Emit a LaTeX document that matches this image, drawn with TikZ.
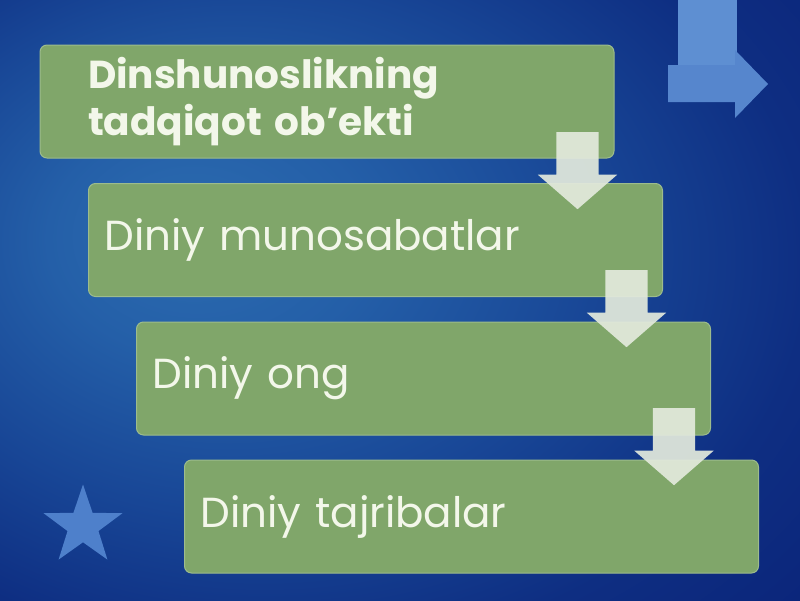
\documentclass[tikz,border=0pt]{standalone}
\usepackage{fontspec}
\setmainfont{Poppins}
\usetikzlibrary{shapes.geometric,shapes.arrows}

\definecolor{boxgreen}{HTML}{80A66A}
\definecolor{boxedge}{HTML}{9DBC8C}
\definecolor{boxtext}{HTML}{F3F7EA}
\definecolor{arrowfill}{HTML}{E2E9DC}
\definecolor{bluebar}{HTML}{5E8FD2}
\definecolor{bluearrow}{HTML}{5686CD}
\definecolor{starblue}{HTML}{4E80CB}

\pgfdeclareradialshading{slidebg}{\pgfpoint{-14bp}{6bp}}{%
  color(0bp)=(rgb,255:red,44;green,108;blue,176);
  color(10bp)=(rgb,255:red,36;green,95;blue,168);
  color(22bp)=(rgb,255:red,24;green,70;blue,150);
  color(33bp)=(rgb,255:red,14;green,46;blue,130);
  color(45bp)=(rgb,255:red,10;green,34;blue,120);
  color(70bp)=(rgb,255:red,8;green,28;blue,112)}

\tikzset{
  stage/.style={draw=boxedge, line width=1pt, fill=boxgreen, rounded corners=7pt,
    minimum width=574pt, minimum height=113pt, text width=542pt, inner xsep=16pt,
    align=left, text=boxtext, font=\fontsize{42}{50}\selectfont},
  downarrow/.style={single arrow, shape border rotate=270, fill=arrowfill, fill opacity=0.93,
    minimum height=77pt, inner sep=21pt, single arrow head extend=18.5pt,
    single arrow tip angle=98, anchor=tail}
}

\begin{document}
\begin{tikzpicture}[x=1pt,y=-1pt]
  \shade[shading=slidebg] (0,0) rectangle (800,600);
  \useasboundingbox (0,0) rectangle (800,600);

  % bent arrow in the corner
  \fill[bluebar] (678,0) rectangle (737,66);
  \fill[bluearrow] (668,65) -- (735,65) -- (735,50) -- (768,84) -- (735,118) -- (735,102) -- (668,102) -- cycle;
  \node[star, star points=5, star point ratio=2.55, minimum size=83pt, inner sep=0pt, fill=starblue] (star) at (83,526) {};

  \node[stage, inner xsep=48pt, text width=478pt, font=\bfseries\fontsize{39}{47}\selectfont]
                   (object)    at (327  , 101.5) {Dinshunoslikning\\tadqiqot ob’ekti};
  \node[stage]     (relations) at (375.5, 240  ) {Diniy munosabatlar};
  \node[stage]     (mind)      at (423.5, 378.5) {Diniy ong};
  \node[stage]     (practice)  at (471.5, 516.5) {Diniy tajribalar};

  \def\downs {a1/577.5/132, a2/626.5/270, a3/674/408}  % from one stage to the next
  \foreach \u\x\y in \downs
  {  \node[downarrow] (\u) at (\x,\y) {};
  }
\end{tikzpicture}
\end{document}
